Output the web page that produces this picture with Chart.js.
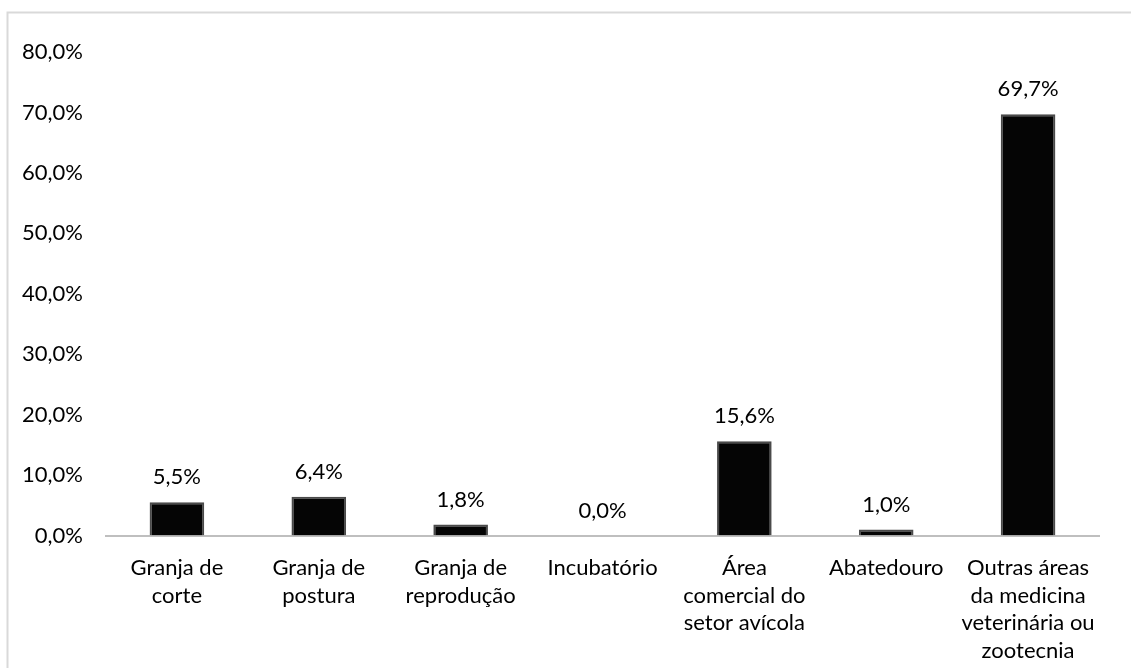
<!DOCTYPE html>
<html>
<head>
<meta charset="utf-8">
<script src="https://cdn.jsdelivr.net/npm/chart.js@4/dist/chart.umd.min.js"></script>
<style>
  html, body { margin: 0; padding: 0; background: #fff; }
  #wrap { width: 1131px; height: 668px; position: relative; }
</style>
</head>
<body>
<div id="wrap"><canvas id="c" width="1131" height="668"></canvas></div>
<script>
// Categories (each entry is a list of label lines)
const categories = [
  ["Granja de", "corte"],
  ["Granja de", "postura"],
  ["Granja de", "reprodução"],
  ["Incubatório"],
  ["Área", "comercial do", "setor avícola"],
  ["Abatedouro"],
  ["Outras áreas", "da medicina", "veterinária ou", "zootecnia"]
];

// Share of respondents per area, in percent
const percentages = [5.5, 6.4, 1.8, 0.0, 15.6, 1.0, 69.7];

// Y axis ticks
const yTicks = [0, 10, 20, 30, 40, 50, 60, 70, 80];

const FONT = "Lato, 'Open Sans', sans-serif";

const fmtPct = v => v.toFixed(1).replace('.', ',') + '%';

// Light frame around the chart
const framePlugin = {
  id: 'frame',
  beforeDraw(chart) {
    const ctx = chart.ctx;
    ctx.save();
    ctx.fillStyle = '#fff';
    ctx.fillRect(0, 0, chart.width, chart.height);
    ctx.strokeStyle = '#d9d9d9';
    ctx.lineWidth = 2;
    ctx.strokeRect(7.5, 12.5, chart.width + 20, chart.height + 20);
    ctx.restore();
  }
};

// Value labels above each bar
const valueLabels = {
  id: 'valueLabels',
  afterDatasetsDraw(chart) {
    const ctx = chart.ctx;
    const meta = chart.getDatasetMeta(0);
    ctx.save();
    ctx.font = '22px ' + FONT;
    ctx.fillStyle = '#000';
    ctx.textAlign = 'center';
    ctx.textBaseline = 'middle';
    meta.data.forEach((bar, i) => {
      ctx.fillText(fmtPct(percentages[i]), bar.x, bar.y - 25);
    });
    ctx.restore();
  }
};

new Chart(document.getElementById('c'), {
  type: 'bar',
  data: {
    labels: categories,
    datasets: [{
      data: percentages,
      backgroundColor: '#050505',
      borderColor: '#4a4a4a',
      borderWidth: 2,
      borderSkipped: 'bottom',
      barPercentage: 0.385,
      categoryPercentage: 1.0
    }]
  },
  options: {
    responsive: false,
    animation: false,
    layout: { padding: { top: 52, right: 32, left: 0, bottom: 0 } },
    plugins: { legend: { display: false }, tooltip: { enabled: false } },
    scales: {
      x: {
        grid: { display: false, drawTicks: false },
        border: { display: true, color: '#bfbfbf', width: 2 },
        ticks: {
          color: '#000',
          font: { family: FONT, size: 22, lineHeight: 1.27 },
          padding: 18,
          maxRotation: 0,
          autoSkip: false
        },
        afterFit(scale) { scale.height = 132.5; }
      },
      y: {
        min: 0,
        max: 80,
        afterBuildTicks(scale) { scale.ticks = yTicks.map(v => ({ value: v })); },
        grid: { display: false, drawTicks: false },
        border: { display: false },
        ticks: {
          color: '#000',
          font: { family: FONT, size: 22 },
          padding: 23,
          callback: v => fmtPct(v)
        },
        afterFit(scale) { scale.width = 106; }
      }
    }
  },
  plugins: [framePlugin, valueLabels]
});
</script>
</body>
</html>
